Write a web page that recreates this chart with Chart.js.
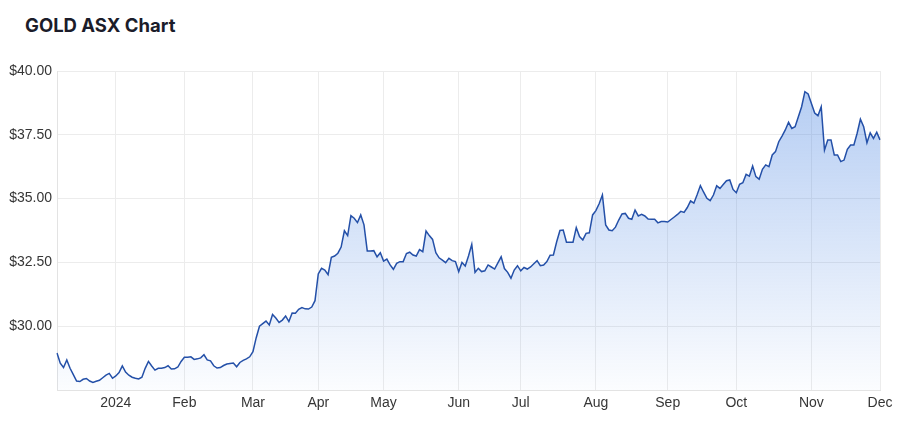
<!DOCTYPE html>
<html>
<head>
<meta charset="utf-8">
<title>GOLD ASX Chart</title>
<script src="https://cdn.jsdelivr.net/npm/chart.js@4.4.1/dist/chart.umd.min.js"></script>
<style>
    html, body { margin: 0; padding: 0; background: #fff; }
    #wrap { position: relative; width: 909px; height: 430px; }
    #title {
        position: absolute; left: 25px; top: 13px;
        font-family: Inter, "Liberation Sans", sans-serif;
        font-weight: 700; font-size: 18.5px; line-height: 24px;
        color: #1b1c2a;
    }
    canvas { position: absolute; left: 0; top: 0; }
</style>
</head>
<body>
<div id="wrap">
    <div id="title">GOLD ASX Chart</div>
    <canvas id="chart" width="909" height="430"></canvas>
</div>
<script>
// trading days from 4 Dec 2023 to 2 Dec 2024 (ASX, weekends and holidays skipped)
var startDate = '2023-12-04';
var endDate = '2024-12-02';
var holidays = ['2023-12-25', '2023-12-26', '2024-01-01', '2024-01-26', '2024-03-29',
    '2024-04-01', '2024-04-25', '2024-06-10'];

// month tick labels (January shows the year)
var monthLabels = ['2024', 'Feb', 'Mar', 'Apr', 'May', 'Jun', 'Jul', 'Aug', 'Sep', 'Oct', 'Nov', 'Dec'];

var yTicks = [27.5, 30, 32.5, 35, 37.5, 40];

// closing prices, one per trading day
var prices = [
    28.95, 28.55, 28.38, 28.68, 28.35, 28.10, 27.85, 27.83, 27.92, 27.95,
    27.85, 27.80, 27.84, 27.88, 27.98, 28.08, 28.15, 27.96, 28.05, 28.18,
    28.44, 28.20, 28.08, 28.00, 27.96, 27.93, 28.00, 28.35, 28.62, 28.44,
    28.28, 28.35, 28.35, 28.38, 28.45, 28.32, 28.33, 28.40, 28.62, 28.78,
    28.78, 28.80, 28.70, 28.72, 28.76, 28.88, 28.68, 28.64, 28.45, 28.36,
    28.38, 28.46, 28.52, 28.54, 28.56, 28.41, 28.58, 28.66, 28.72, 28.80,
    29.00, 29.55, 30.00, 30.10, 30.20, 30.05, 30.46, 30.32, 30.15, 30.24,
    30.40, 30.18, 30.52, 30.51, 30.66, 30.73, 30.68, 30.67, 30.75, 31.00,
    32.05, 32.27, 32.20, 32.02, 32.70, 32.75, 32.86, 33.10, 33.74, 33.55,
    34.33, 34.23, 34.06, 34.36, 33.97, 32.95, 32.95, 32.96, 32.72, 32.88,
    32.55, 32.63, 32.40, 32.23, 32.46, 32.53, 32.53, 32.85, 32.90, 32.79,
    32.75, 33.00, 32.92, 33.73, 33.55, 33.40, 32.88, 32.68, 32.59, 32.49,
    32.66, 32.57, 32.53, 32.14, 32.50, 32.36, 32.75, 33.21, 32.11, 32.27,
    32.14, 32.17, 32.40, 32.32, 32.24, 32.48, 32.72, 32.26, 32.11, 31.88,
    32.20, 32.37, 32.17, 32.30, 32.24, 32.32, 32.45, 32.57, 32.37, 32.40,
    32.53, 32.78, 32.79, 33.31, 33.75, 33.77, 33.29, 33.29, 33.29, 33.86,
    33.51, 33.38, 33.64, 33.66, 34.36, 34.53, 34.80, 35.14, 33.97, 33.77,
    33.74, 33.88, 34.16, 34.40, 34.42, 34.23, 34.19, 34.55, 34.32, 34.38,
    34.32, 34.20, 34.19, 34.19, 34.05, 34.10, 34.10, 34.08, 34.18, 34.28,
    34.38, 34.50, 34.46, 34.65, 34.91, 34.82, 35.15, 35.51, 35.25, 35.01,
    34.92, 35.14, 35.50, 35.40, 35.55, 35.70, 35.73, 35.36, 35.23, 35.56,
    35.62, 35.95, 35.88, 36.28, 35.86, 35.76, 36.15, 36.32, 36.25, 36.71,
    36.84, 37.23, 37.45, 37.69, 37.99, 37.75, 37.82, 38.21, 38.60, 39.19,
    39.10, 38.73, 38.35, 38.25, 38.60, 36.90, 37.30, 37.30, 36.71, 36.71,
    36.45, 36.51, 36.93, 37.10, 37.10, 37.56, 38.11, 37.82, 37.19, 37.58,
    37.36, 37.60, 37.30
];

function tradingDays(from, to, skip) {
    var days = [];
    var d = new Date(from + 'T00:00:00Z');
    var end = new Date(to + 'T00:00:00Z');
    while (d <= end) {
        var s = d.toISOString().slice(0, 10);
        var wd = d.getUTCDay();
        if (wd !== 0 && wd !== 6 && skip.indexOf(s) === -1) days.push(s);
        d.setUTCDate(d.getUTCDate() + 1);
    }
    return days;
}

var dates = tradingDays(startDate, endDate, holidays);

var chart = new Chart(document.getElementById('chart'), {
    type: 'line',
    data: {
        labels: dates,
        datasets: [{
            data: prices,
            borderColor: '#2450a8',
            borderWidth: 1.5,
            pointRadius: 0,
            tension: 0,
            fill: 'start',
            backgroundColor: function(ctx) {
                var area = ctx.chart.chartArea;
                if (!area) return 'rgba(70,130,225,0.2)';
                var g = ctx.chart.ctx.createLinearGradient(0, area.top, 0, area.bottom);
                g.addColorStop(0, 'rgba(70,130,225,0.42)');
                g.addColorStop(1, 'rgba(70,130,225,0.02)');
                return g;
            }
        }]
    },
    options: {
        responsive: false,
        animation: false,
        layout: { padding: { top: 71, right: 29, left: 0, bottom: 0 } },
        plugins: {
            legend: { display: false },
            tooltip: { enabled: false }
        },
        scales: {
            x: {
                type: 'category',
                grid: { color: '#ececec', drawTicks: false },
                border: { color: '#e3e3e3' },
                ticks: {
                    autoSkip: false,
                    maxRotation: 0,
                    padding: 5,
                    color: '#363636',
                    font: { family: '"Liberation Sans", Arial, sans-serif', size: 14 },
                    callback: function(value, index) {
                        if (index === 0) return null;
                        var cur = dates[index].slice(0, 7);
                        var prev = dates[index - 1].slice(0, 7);
                        if (cur === prev) return null;
                        return monthLabels[parseInt(dates[index].slice(5, 7), 10) - 1];
                    }
                },
                afterFit: function(scale) { scale.height = 40; }
            },
            y: {
                min: yTicks[0],
                max: yTicks[yTicks.length - 1],
                afterBuildTicks: function(scale) {
                    scale.ticks = yTicks.map(function(v) { return { value: v }; });
                },
                grid: { color: '#ececec', drawTicks: false },
                border: { color: '#e3e3e3' },
                ticks: {
                    padding: 5,
                    color: '#363636',
                    font: { family: '"Liberation Sans", Arial, sans-serif', size: 14 },
                    callback: function(value) {
                        if (value === yTicks[0]) return '';
                        return '$' + value.toFixed(2);
                    }
                },
                afterFit: function(scale) { scale.width = 57; }
            }
        }
    }
});
</script>
</body>
</html>
